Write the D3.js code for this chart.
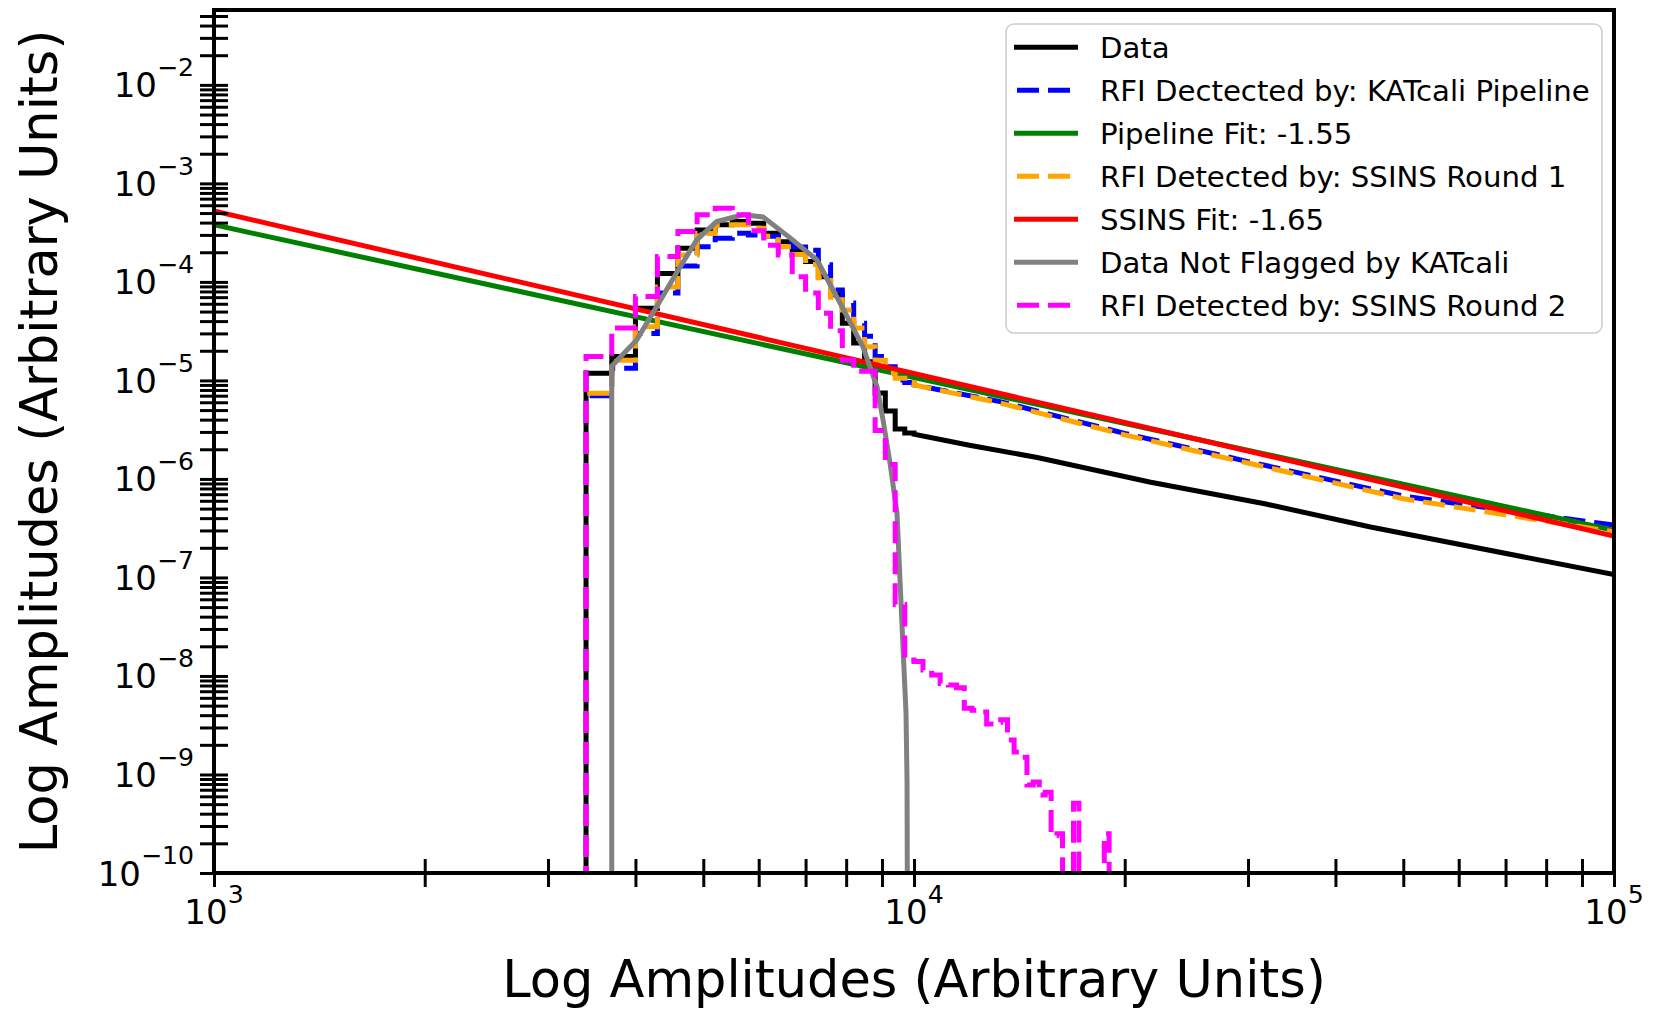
<!DOCTYPE html>
<html>
<head>
<meta charset="utf-8">
<script src="https://cdn.jsdelivr.net/npm/d3@7"></script>
<style>
  html, body { margin: 0; padding: 0; background: #ffffff; }
  svg { display: block; font-family: "DejaVu Sans", sans-serif; }
</style>
</head>
<body>
<svg id="chart" width="1653" height="1012"></svg>
<script>
// ---- Histogram data: [left bin edge, density]; bins are 300 units wide ----
const dataSteps = [[3100,0],[3400,1.18e-5],[3700,1.75e-5],[4000,5.41e-5],[4300,1.22e-4],[4600,2.2e-4],[4900,3.37e-4],[5200,3.8e-4],[5500,4.1e-4],[5800,3.94e-4],[6100,3.12e-4],[6400,2.56e-4],[6700,2.11e-4],[7000,1.61e-4],[7300,1.13e-4],[7600,7.4e-5],[7900,3.8e-5],[8200,2.4e-5],[8500,1.55e-5],[8800,7.46e-6],[9100,4.9e-6],[9400,3.22e-6],[9700,2.93e-6],[10000,2.85e-6]];
const dataTail = [[12000,2.2e-6],[15000,1.65e-6],[21700,9.3e-7],[31700,5.6e-7],[44900,3.25e-7],[100000,1.07e-7]];

const katcaliSteps = [[3100,0],[3400,7.0e-6],[3700,1.33e-5],[4000,3.0e-5],[4300,7.7e-5],[4600,1.45e-4],[4900,2.28e-4],[5200,2.77e-4],[5500,3.12e-4],[5800,3.0e-4],[6100,2.9e-4],[6400,2.47e-4],[6700,2.26e-4],[7000,2.1e-4],[7300,1.49e-4],[7600,8.3e-5],[7900,6.1e-5],[8200,3.8e-5],[8500,2.8e-5],[8800,1.75e-5],[9100,1.38e-5],[9400,1.01e-5],[9700,9.5e-6],[10000,9.0e-6]];
const katcaliTail = [[13270,6.1e-6],[20000,2.9e-6],[30000,1.5e-6],[50000,6.7e-7],[100000,3.4e-7]];

const ssins1Steps = [[3100,0],[3400,7.4e-6],[3700,1.6e-5],[4000,3.5e-5],[4300,8.9e-5],[4600,1.88e-4],[4900,3.1e-4],[5200,3.8e-4],[5500,3.8e-4],[5800,3.5e-4],[6100,2.9e-4],[6400,2.28e-4],[6700,1.9e-4],[7000,1.5e-4],[7300,1.1e-4],[7600,7.0e-5],[7900,5.2e-5],[8200,3.4e-5],[8500,2.2e-5],[8800,1.6e-5],[9100,1.2e-5],[9400,1.05e-5],[9700,9.5e-6],[10000,9.0e-6]];
const ssins1Tail = [[13270,5.9e-6],[20000,2.8e-6],[30000,1.45e-6],[50000,6.3e-7],[100000,2.9e-7]];

const ssins2Steps = [[3100,0],[3400,1.75e-5],[3700,3.4e-5],[4000,7.1e-5],[4300,1.81e-4],[4600,3.24e-4],[4900,4.8e-4],[5200,5.6e-4],[5500,4.8e-4],[5800,3.3e-4],[6100,2.35e-4],[6400,1.87e-4],[6700,1.13e-4],[7000,7.7e-5],[7300,4.8e-5],[7600,3.2e-5],[7900,1.6e-5],[8200,1.24e-5],[8500,1.24e-5],[8800,3.1e-6],[9100,1.4e-6],[9400,5.3e-8],[9700,1.45e-8],[10000,1.4e-8],[10300,1.15e-8],[10600,1.02e-8],[10900,8.4e-9],[11200,8.1e-9],[11500,7.6e-9],[11800,4.7e-9],[12100,4.5e-9],[12400,4.3e-9],[12700,3.26e-9],[13000,3.4e-9],[13300,3.6e-9],[13600,2.24e-9],[13900,1.69e-9],[14200,1.5e-9],[14500,7.8e-10],[14800,8.4e-10],[15100,6.2e-10],[15400,6.6e-10],[15700,2.4e-10],[16000,2.5e-10],[16300,0],[16900,5.1e-10],[17200,0],[18700,2.5e-10],[19000,0],[19300,0]];

// Unflagged data: smooth curve [amplitude, density]
const unflagged = [[3700,0],[3700,1.4e-5],[4017,2.58e-5],[4290,5.62e-5],[4602,1.31e-4],[4893,2.67e-4],[5225,4.1e-4],[5697,4.79e-4],[6085,4.57e-4],[6652,2.8e-4],[7268,1.67e-4],[7841,6.1e-5],[8455,2.19e-5],[8855,8.6e-6],[9030,4.0e-6],[9242,1.45e-6],[9456,4.5e-7],[9550,9.4e-8],[9645,1.97e-8],[9741,4.2e-9],[9773,8.8e-10],[9790,0]];

// Power-law fits: slope and density at amplitude 1000
const fitNames = ["Pipeline Fit", "SSINS Fit"];
const fitSlopes = [-1.55, -1.65];
const fitAt1000 = [3.8e-4, 5.25e-4];

// Axis ticks
const xMajorExp = [3, 4, 5];
const yMajorExp = [-10, -9, -8, -7, -6, -5, -4, -3, -2];
const minorMult = [2, 3, 4, 5, 6, 7, 8, 9];

const legendLabels = ["Data", "RFI Dectected by: KATcali Pipeline", "Pipeline Fit: -1.55",
  "RFI Detected by: SSINS Round 1", "SSINS Fit: -1.65", "Data Not Flagged by KATcali",
  "RFI Detected by: SSINS Round 2"];
const seriesColors = ["#000000", "#0000ff", "#008000", "#ffa500", "#ff0000", "#808080", "#ff00ff"];
const seriesDashed = [false, true, false, true, false, false, true];

// ---- Layout ----
const margin = { left: 214, top: 10 };
const W = 1400, H = 863;
const svg = d3.select("#chart");
const g = svg.append("g").attr("transform", `translate(${margin.left},${margin.top})`);

const x = d3.scaleLog().domain([1e3, 1e5]).range([0, W]);
const y = d3.scaleLog().domain([1e-10, Math.pow(10, -1.24)]).range([H, 0]);

svg.append("defs").append("clipPath").attr("id", "plotClip")
  .append("rect").attr("x", 0).attr("y", 0).attr("width", W).attr("height", H);

const yv = v => (v > 0 ? y(v) : H + 80);
const line = d3.line().x(d => x(d[0])).y(d => yv(d[1]));

function stepPoints(steps) {
  const pts = [];
  steps.forEach((d, i) => {
    if (i > 0) pts.push([d[0], steps[i - 1][1]]);
    pts.push(d);
  });
  return pts;
}

const plot = g.append("g").attr("clip-path", "url(#plotClip)");
const LW = 5;
const DASH = "22,9";

function drawSeries(points, i) {
  plot.append("path")
    .attr("d", line(points))
    .attr("fill", "none")
    .attr("stroke", seriesColors[i])
    .attr("stroke-width", LW)
    .attr("stroke-linejoin", "miter")
    .attr("stroke-dasharray", seriesDashed[i] ? DASH : null);
}

drawSeries(stepPoints(dataSteps).concat(dataTail), 0);
drawSeries(stepPoints(katcaliSteps).concat(katcaliTail), 1);
drawSeries([[1e3, fitAt1000[0]], [1e5, fitAt1000[0] * Math.pow(100, fitSlopes[0])]], 2);
drawSeries(stepPoints(ssins1Steps).concat(ssins1Tail), 3);
drawSeries([[1e3, fitAt1000[1]], [1e5, fitAt1000[1] * Math.pow(100, fitSlopes[1])]], 4);
drawSeries(unflagged, 5);
drawSeries(stepPoints(ssins2Steps), 6);

// ---- Axes ----
const TICK = 14;
const xTicks = [];
xMajorExp.forEach(e => { xTicks.push(Math.pow(10, e)); if (e < 5) minorMult.forEach(m => xTicks.push(m * Math.pow(10, e))); });
const yTicks = [];
yMajorExp.forEach(e => { yTicks.push(Math.pow(10, e)); minorMult.forEach(m => { const v = m * Math.pow(10, e); if (v <= y.domain()[1]) yTicks.push(v); }); });

const xAxis = g.append("g").attr("transform", `translate(0,${H})`)
  .call(d3.axisBottom(x).tickValues(xTicks).tickSize(TICK).tickFormat(""));
const yAxis = g.append("g")
  .call(d3.axisLeft(y).tickValues(yTicks).tickSize(TICK).tickFormat(""));

[xAxis, yAxis].forEach(a => {
  a.select(".domain").remove();
  a.selectAll(".tick line").attr("stroke", "#000").attr("stroke-width", 3);
});
xAxis.selectAll(".tick line").attr("y1", -TICK).attr("y2", TICK);
yAxis.selectAll(".tick line").attr("x1", -TICK).attr("x2", TICK);

// frame
g.append("rect").attr("x", 0).attr("y", 0).attr("width", W).attr("height", H)
  .attr("fill", "none").attr("stroke", "#000").attr("stroke-width", 4);

// tick labels with superscripts
const FS = 34;
function powLabel(sel, exp) {
  sel.append("tspan").text("10");
  sel.append("tspan").attr("dy", -0.62 * FS).attr("font-size", 0.74 * FS)
    .text(exp < 0 ? "\u2212" + Math.abs(exp) : String(exp));
}
xMajorExp.forEach(e => {
  const t = g.append("text").attr("x", x(Math.pow(10, e))).attr("y", H + 51)
    .attr("text-anchor", "middle").attr("font-size", FS).attr("fill", "#000");
  powLabel(t, e);
});
yMajorExp.forEach(e => {
  const t = g.append("text").attr("x", -20).attr("y", y(Math.pow(10, e)) + 12.5)
    .attr("text-anchor", "end").attr("font-size", FS).attr("fill", "#000");
  powLabel(t, e);
});

// axis titles
svg.append("text").attr("x", margin.left + W / 2).attr("y", 997)
  .attr("text-anchor", "middle").attr("font-size", 51).attr("fill", "#000")
  .text("Log Amplitudes (Arbitrary Units)");
svg.append("text").attr("transform", `translate(57,${margin.top + H / 2}) rotate(-90)`)
  .attr("text-anchor", "middle").attr("font-size", 51).attr("fill", "#000")
  .text("Log Amplitudes (Arbitrary Units)");

// ---- Legend ----
const lg = svg.append("g");
lg.append("rect").attr("x", 1006).attr("y", 24).attr("width", 596).attr("height", 309)
  .attr("rx", 8).attr("fill", "#fff").attr("fill-opacity", 0.8)
  .attr("stroke", "#cccccc").attr("stroke-width", 1.5);
legendLabels.forEach((lab, i) => {
  const cy = 47.3 + i * 43;
  lg.append("line")
    .attr("x1", seriesDashed[i] ? 1017 : 1014).attr("x2", seriesDashed[i] ? 1070 : 1078)
    .attr("y1", cy).attr("y2", cy)
    .attr("stroke", seriesColors[i]).attr("stroke-width", LW)
    .attr("stroke-dasharray", seriesDashed[i] ? DASH : null);
  lg.append("text").attr("x", 1100).attr("y", cy + 10.5).attr("font-size", 29.2).attr("fill", "#000").text(lab);
});
</script>
</body>
</html>
